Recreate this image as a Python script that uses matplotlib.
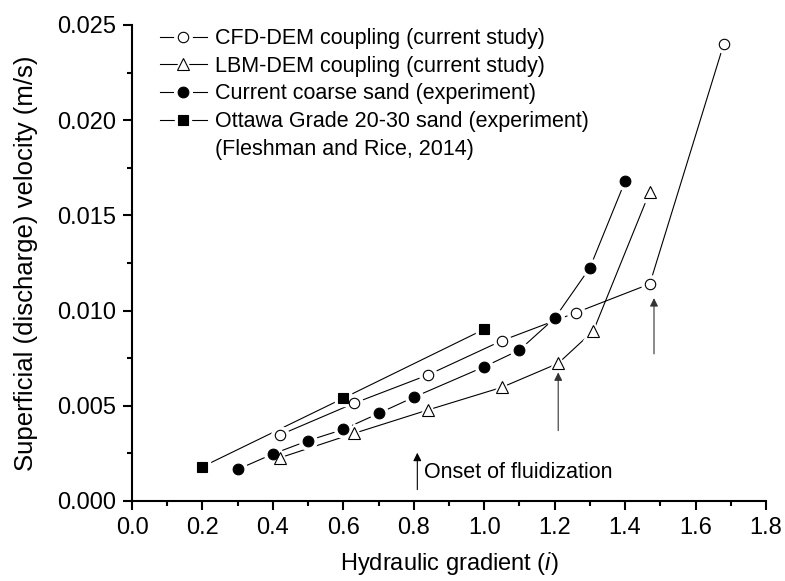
import matplotlib
matplotlib.use("Agg")
import matplotlib.pyplot as plt
from matplotlib.legend_handler import HandlerTuple
from matplotlib.ticker import MultipleLocator, FormatStrFormatter
from matplotlib.lines import Line2D

plt.rcParams['font.family'] = ['Liberation Sans', 'DejaVu Sans']
plt.rcParams['mathtext.fontset'] = 'custom'
plt.rcParams['mathtext.it'] = 'Liberation Sans:italic'
plt.rcParams['mathtext.rm'] = 'Liberation Sans'

cfd_x = [0.42, 0.63, 0.84, 1.05, 1.26, 1.47, 1.68]
cfd_y = [0.00347, 0.00513, 0.00662, 0.00842, 0.00989, 0.0114, 0.0240]
lbm_x = [0.42, 0.63, 0.84, 1.05, 1.21, 1.31, 1.47]
lbm_y = [0.00227, 0.00355, 0.00478, 0.00597, 0.00723, 0.00894, 0.01624]
sand_x = [0.3, 0.4, 0.5, 0.6, 0.7, 0.8, 1.0, 1.1, 1.2, 1.3, 1.4]
sand_y = [0.00166, 0.00247, 0.00317, 0.00376, 0.0046, 0.00545, 0.00705, 0.00793, 0.0096, 0.01225, 0.0168]
ott_x = [0.2, 0.6, 1.0]
ott_y = [0.0018, 0.0054, 0.00902]

labels = ["CFD-DEM coupling (current study)",
          "LBM-DEM coupling (current study)",
          "Current coarse sand (experiment)",
          "Ottawa Grade 20-30 sand (experiment)",
          "(Fleshman and Rice, 2014)"]

fig = plt.figure(figsize=(7.85, 5.81), dpi=100)
ax = fig.add_axes([0.1682, 0.1377, 0.9758 - 0.1682, 0.957 - 0.1377])

def series(x, y, marker, ms, mfc):
    l1, = ax.plot(x, y, '-', color='black', lw=0.8, zorder=2)
    l2, = ax.plot(x, y, marker, ls='none', ms=ms + 5, mfc='white', mec='white', zorder=3)
    l3, = ax.plot(x, y, marker, ls='none', ms=ms, mfc=mfc, mec='black', mew=0.8, zorder=4)
    return (l1, l2, l3)

h1 = series(cfd_x, cfd_y, 'o', 7.5, 'white')
h2 = series(lbm_x, lbm_y, '^', 9.0, 'white')
h3 = series(sand_x, sand_y, 'o', 7.7, 'black')
h4 = series(ott_x, ott_y, 's', 7.2, 'black')
blank = Line2D([], [], ls='none')

ax.legend([h1, h2, h3, h4, blank], labels,
          handler_map={tuple: HandlerTuple(ndivide=1, pad=0)},
          loc='upper left', bbox_to_anchor=(0.02, 1.025), frameon=False, fontsize=15.5,
          handlelength=2.2, handletextpad=0.37, labelspacing=0.31, borderaxespad=0.3)

# arrows
ax.annotate('', xy=(0.81, 0.00268), xytext=(0.81, 0.00045),
            arrowprops=dict(arrowstyle='-|>', color='black', lw=0.8, mutation_scale=12))
ax.text(0.83, 0.0015, 'Onset of fluidization', fontsize=15.5, va='center', ha='left')
ax.annotate('', xy=(1.21, 0.0069), xytext=(1.21, 0.00355),
            arrowprops=dict(arrowstyle='-|>', color='#333333', lw=0.8, mutation_scale=12))
ax.annotate('', xy=(1.482, 0.0108), xytext=(1.482, 0.00758),
            arrowprops=dict(arrowstyle='-|>', color='#333333', lw=0.8, mutation_scale=12))

ax.set_xlim(0, 1.8)
ax.set_ylim(0, 0.025)
ax.xaxis.set_major_locator(MultipleLocator(0.2))
ax.xaxis.set_minor_locator(MultipleLocator(0.1))
ax.yaxis.set_major_locator(MultipleLocator(0.005))
ax.yaxis.set_minor_locator(MultipleLocator(0.0025))
ax.xaxis.set_major_formatter(FormatStrFormatter('%.1f'))
ax.yaxis.set_major_formatter(FormatStrFormatter('%.3f'))
ax.spines['top'].set_visible(False)
ax.spines['right'].set_visible(False)
for s in ('left', 'bottom'):
    ax.spines[s].set_linewidth(1.5)
ax.tick_params(which='major', direction='out', length=6.5, width=1.5, labelsize=17, pad=5)
ax.tick_params(which='minor', direction='out', length=3.6, width=1.5)

ax.set_xlabel('Hydraulic gradient ($\\mathit{i}$)', fontsize=17, labelpad=8)
ax.set_ylabel('Superficial (discharge) velocity (m/s)', fontsize=18.5, labelpad=14)

fig.savefig('out.png', dpi=100)
